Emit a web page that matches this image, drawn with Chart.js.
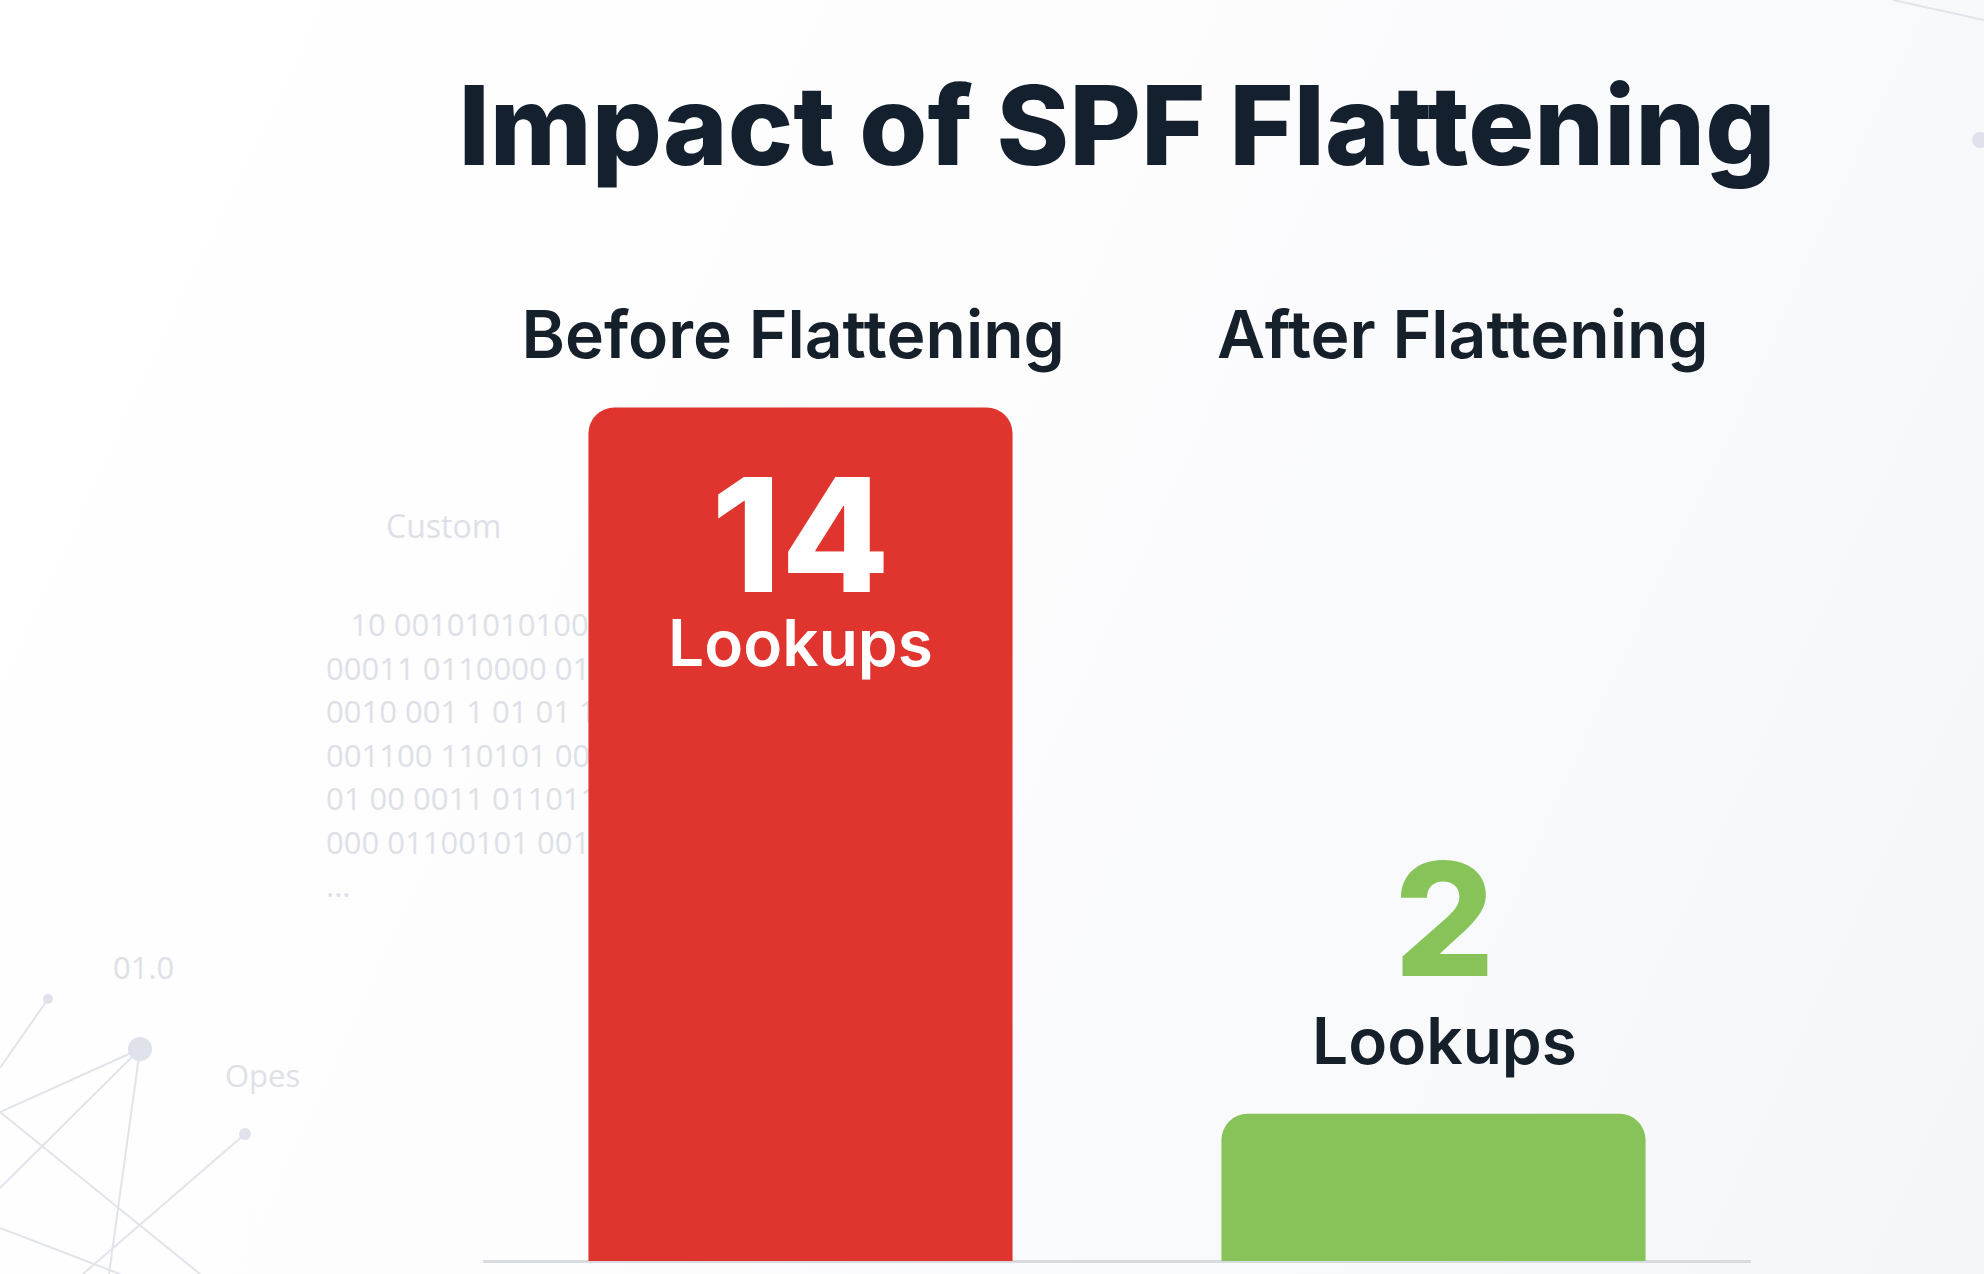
<!DOCTYPE html>
<html>
<head>
<meta charset="utf-8">
<title>Impact of SPF Flattening</title>
<script src="https://cdn.jsdelivr.net/npm/chart.js@4.4.1/dist/chart.umd.min.js"></script>
<style>
  html, body { margin: 0; padding: 0; }
  body { width: 1984px; height: 1274px; overflow: hidden; position: relative;
    background: linear-gradient(115deg, #ffffff 0%, #fdfdfe 45%, #f4f6f9 100%);
    font-family: "Open Sans", sans-serif; }
  .deco { position: absolute; color: #dde1e7; font-size: 31px; white-space: pre; line-height: 1; }
  #net { position: absolute; left: 0; top: 0; }
  #wrap { position: absolute; left: 0; top: 0; width: 1984px; height: 1274px; }
  h1 { position: absolute; left: 250px; width: 1734px; top: 70px; margin: 0; text-align: center;
    font: 800 110px/1 Inter, sans-serif; color: #14202d; white-space: nowrap; }
</style>
</head>
<body>
<!-- faint background decoration -->
<svg id="net" width="1984" height="1274">
  <g stroke="#e1e4ea" stroke-width="2" fill="none">
    <line x1="48" y1="999" x2="0" y2="1068"/>
    <line x1="140" y1="1049" x2="0" y2="1112"/>
    <line x1="140" y1="1049" x2="0" y2="1188"/>
    <line x1="140" y1="1049" x2="109" y2="1274"/>
    <line x1="0" y1="1112" x2="200" y2="1274"/>
    <line x1="0" y1="1228" x2="120" y2="1274"/>
    <line x1="245" y1="1134" x2="83" y2="1274"/>
    <line x1="1893" y1="0" x2="1984" y2="20"/>
  </g>
  <g fill="#dfe2ea">
    <circle cx="48" cy="999" r="5"/>
    <circle cx="140" cy="1049" r="12"/>
    <circle cx="245" cy="1134" r="6"/>
    <circle cx="1980" cy="140" r="8"/>
  </g>
</svg>
<div class="deco" style="left:386px;top:510px;font-size:32px;">Custom</div>
<div class="deco" style="left:326px;top:603px;line-height:43.5px;">   10 00101010100101
00011 0110000 01101
0010 001 1 01 01 10
001100 110101 00010
01 00 0011 0110110
000 01100101 00110
...</div>
<div class="deco" style="left:113px;top:952px;">01.0</div>
<div class="deco" style="left:225px;top:1060px;">Opes</div>

<h1>Impact of SPF Flattening</h1>
<div id="wrap"><canvas id="c"></canvas></div>

<script>
const categories = ['Before Flattening', 'After Flattening'];
const lookups = [14, 2];
const unitLabel = 'Lookups';
const barColors = ['#e0352f', '#88c35a'];

// category headers above the plot, spread a touch wider than the bars
const headers = {
  id: 'headers',
  afterDraw(chart) {
    const { ctx, chartArea } = chart;
    const xs = chart.scales.x;
    const mid = (xs.getPixelForValue(0) + xs.getPixelForValue(categories.length - 1)) / 2;
    ctx.save();
    ctx.textAlign = 'center';
    ctx.textBaseline = 'alphabetic';
    ctx.fillStyle = '#16202b';
    ctx.font = '600 66px Inter';
    categories.forEach((c, i) => {
      const px = mid + (xs.getPixelForValue(i) - mid) * 1.058 + 11;
      ctx.fillText(c, px, chartArea.top - 20);
    });
    ctx.restore();
  }
};

// value labels: big number + "Lookups", inside the tall bar, above the short one
const valueLabels = {
  id: 'valueLabels',
  afterDatasetsDraw(chart) {
    const { ctx } = chart;
    const meta = chart.getDatasetMeta(0);
    meta.data.forEach((bar, i) => {
      const inside = lookups[i] > 5;
      const dx = inside ? 0 : 11;
      ctx.save();
      ctx.textAlign = 'center';
      ctx.textBaseline = 'alphabetic';
      ctx.fillStyle = inside ? '#ffffff' : barColors[i];
      ctx.font = '800 158px Inter';
      ctx.fillText(String(lookups[i]), bar.x + dx, inside ? bar.y + 185 : bar.y - 138);
      ctx.fillStyle = inside ? '#ffffff' : '#16202b';
      ctx.font = '600 64px Inter';
      ctx.fillText(unitLabel, bar.x + dx, inside ? bar.y + 259 : bar.y - 50);
      ctx.restore();
    });
  }
};

new Chart(document.getElementById('c'), {
  type: 'bar',
  data: {
    labels: categories,
    datasets: [{
      data: lookups,
      base: -0.5,
      backgroundColor: barColors,
      borderRadius: 26,
      barPercentage: 0.67,
      categoryPercentage: 1
    }]
  },
  options: {
    responsive: true,
    maintainAspectRatio: false,
    animation: false,
    layout: { padding: { left: 484, right: 234, top: 378, bottom: 5 } },
    plugins: {
      legend: { display: false },
      tooltip: { enabled: false },
      title: { display: false }
    },
    scales: {
      x: {
        position: 'bottom',
        grid: { display: false },
        ticks: { display: false },
        border: { display: true, color: '#d8dbe0', width: 3 }
      },
      y: {
        display: false,
        min: -0.5,
        max: 14.5
      }
    }
  },
  plugins: [valueLabels, headers]
});
</script>
</body>
</html>
